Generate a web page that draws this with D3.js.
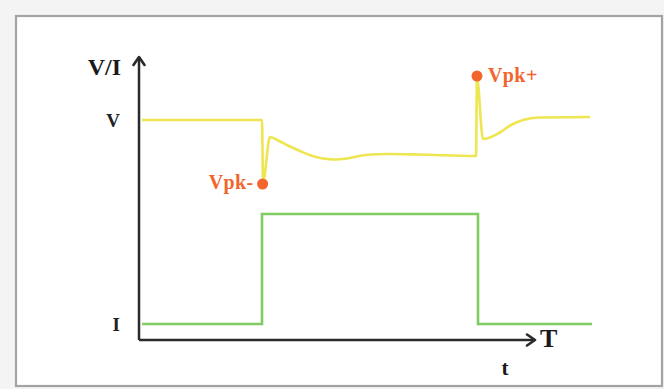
<!DOCTYPE html>
<html>
<head>
<meta charset="utf-8">
<script src="https://cdn.jsdelivr.net/npm/d3@7/dist/d3.min.js"></script>
<style>
html,body{margin:0;padding:0;background:#f4f4f4;}
svg{display:block;}
</style>
</head>
<body>
<script>
// ---- data (time units, value units) ----
const voltageT = [0.75, 30.75, 31, 32.75, 35, 37.5, 40.25, 43, 46, 49, 52, 55, 58, 62, 70, 84.25, 84.5, 86, 90, 93, 96, 100, 112.75];
const voltageV = [220, 220, 158, 203, 199, 194, 189, 184.5, 181.5, 180.5, 181.5, 184, 185.5, 186, 185.5, 184, 262, 201, 207, 215, 220, 222.5, 223];
const currentT = [0.75, 30.75, 30.75, 84.75, 84.75, 113.25];
const currentV = [16, 16, 126, 126, 16, 16];
const peakNames = ["Vpk-", "Vpk+"];
const peakT = [30.9, 84.5];
const peakV = [156, 264];
const yTickLabels = ["V", "I"];
const yTickValues = [220, 16];
const xAxisLabel = "T";
const xSubLabel = "t";
const yAxisLabel = "V/I";

const W = 664, H = 389;
const svg = d3.select("body").append("svg").attr("width", W).attr("height", H);

// frame
svg.append("rect").attr("x", 0).attr("y", 0).attr("width", W).attr("height", H).attr("fill", "#f4f4f4");
svg.append("rect").attr("x", 16).attr("y", 16).attr("width", 646).attr("height", 370)
  .attr("fill", "#ffffff").attr("stroke", "#a3a3a3").attr("stroke-width", 2.2);

const x = d3.scaleLinear().domain([0, 100]).range([139, 539]);
const y = d3.scaleLinear().domain([0, 283]).range([340, 57]);

const serif = "'Liberation Serif','DejaVu Serif',serif";

// arrow markers
const defs = svg.append("defs");
defs.append("marker").attr("id", "arr").attr("viewBox", "-10 -7 12 14")
  .attr("refX", 0).attr("refY", 0).attr("markerWidth", 12).attr("markerHeight", 14)
  .attr("markerUnits", "userSpaceOnUse").attr("orient", "auto")
  .append("path").attr("d", "M-8,-5.5 L0,0 L-8,5.5").attr("fill", "none")
  .attr("stroke", "#2a2a2a").attr("stroke-width", 2.6).attr("stroke-linecap", "round").attr("stroke-linejoin", "round");

// axes lines
svg.append("line").attr("x1", x(0)).attr("y1", y(0)).attr("x2", x(0)).attr("y2", y(283))
  .attr("stroke", "#2a2a2a").attr("stroke-width", 2.5).attr("marker-end", "url(#arr)");
svg.append("line").attr("x1", x(0)).attr("y1", y(0)).attr("x2", x(99)).attr("y2", y(0))
  .attr("stroke", "#2a2a2a").attr("stroke-width", 2.5).attr("marker-end", "url(#arr)");

// y tick labels via axis
const yAxis = d3.axisLeft(y).tickValues(yTickValues).tickFormat((d, i) => yTickLabels[i]).tickSize(0).tickPadding(19);
const gy = svg.append("g").attr("transform", `translate(${x(0)},0)`).call(yAxis);
gy.select(".domain").remove();
gy.selectAll("text").attr("font-family", serif).attr("font-weight", "bold").attr("font-size", 19).attr("fill", "#222");

// axis titles
svg.append("text").attr("x", 121).attr("y", 75).attr("text-anchor", "end")
  .attr("font-family", serif).attr("font-weight", "bold").attr("font-size", 24).attr("fill", "#1a1a1a").text(yAxisLabel);
svg.append("text").attr("x", 540).attr("y", 347)
  .attr("font-family", serif).attr("font-weight", "bold").attr("font-size", 26).attr("fill", "#1a1a1a").text(xAxisLabel);
svg.append("text").attr("x", 505).attr("y", 375).attr("text-anchor", "middle")
  .attr("font-family", serif).attr("font-weight", "bold").attr("font-size", 21).attr("fill", "#1a1a1a").text(xSubLabel);

// series
const vData = voltageT.map((t, i) => [t, voltageV[i]]);
const iData = currentT.map((t, i) => [t, currentV[i]]);

svg.append("path").datum(iData)
  .attr("d", d3.line().x(d => x(d[0])).y(d => y(d[1])))
  .attr("fill", "none").attr("stroke", "#7fcc62").attr("stroke-width", 2.6);

svg.append("path").datum(vData)
  .attr("d", d3.line().x(d => x(d[0])).y(d => y(d[1])).curve(d3.curveMonotoneX))
  .attr("fill", "none").attr("stroke", "#eee650").attr("stroke-width", 2.6);

// peaks
svg.selectAll("circle.pk").data(peakT).enter().append("circle").attr("class", "pk")
  .attr("cx", d => x(d)).attr("cy", (d, i) => y(peakV[i])).attr("r", 5.5).attr("fill", "#f2652d");

svg.append("text").attr("x", x(peakT[0]) - 9).attr("y", y(peakV[0]) + 5).attr("text-anchor", "end")
  .attr("font-family", serif).attr("font-weight", "bold").attr("font-size", 20).attr("letter-spacing", 0.4).attr("fill", "#f2652d").text(peakNames[0]);
svg.append("text").attr("x", x(peakT[1]) + 11).attr("y", y(peakV[1]) + 6).attr("text-anchor", "start")
  .attr("font-family", serif).attr("font-weight", "bold").attr("font-size", 20).attr("letter-spacing", 0.4).attr("fill", "#f2652d").text(peakNames[1]);
</script>
</body>
</html>
